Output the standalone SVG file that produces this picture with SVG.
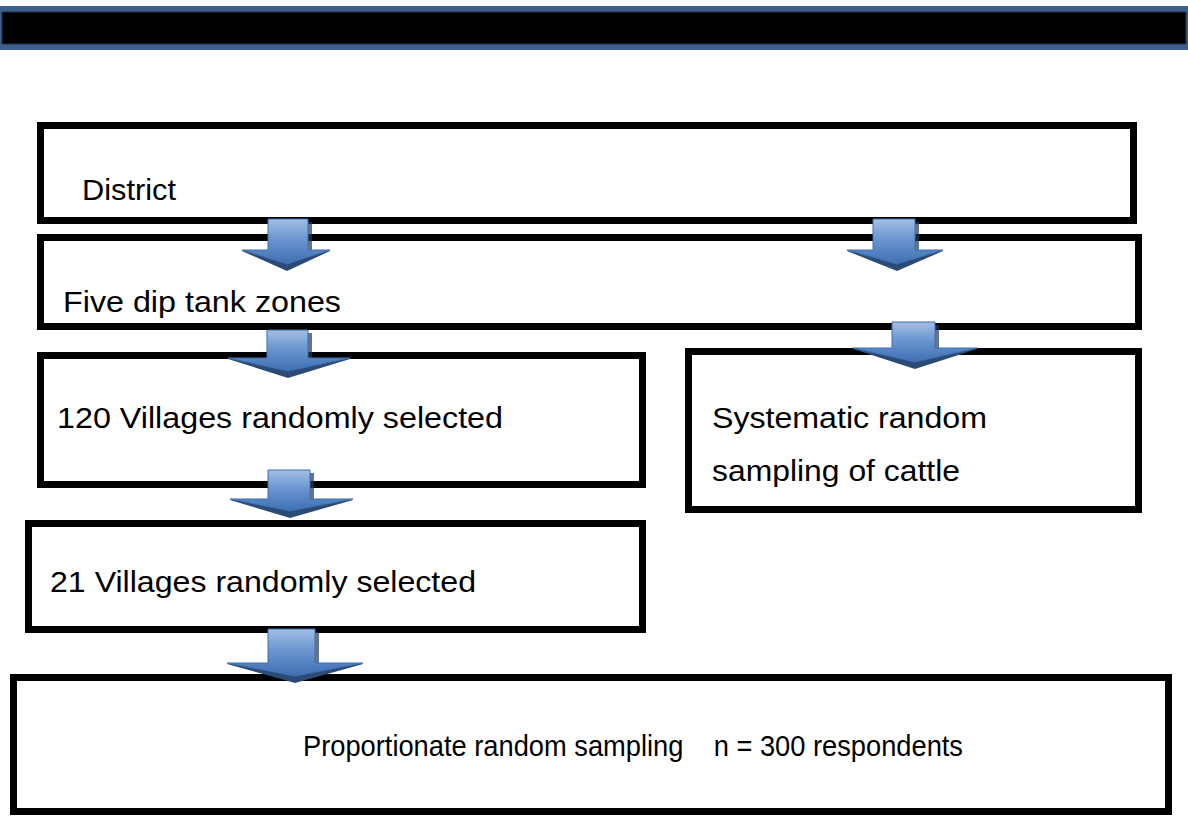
<svg xmlns="http://www.w3.org/2000/svg" width="1188" height="821" viewBox="0 0 1188 821">
<defs>
<style>
.box{fill:#fff;stroke:#000;stroke-width:7}
.t{font-family:"Liberation Sans",Arial,sans-serif;font-size:29px;fill:#000}
.shadow{fill:#2b4a75}
.sh2{fill:#1f3a60;opacity:0.7}
.arr{fill:url(#g);stroke:#3f6fae;stroke-width:1}
</style>
<linearGradient id="g" x1="0" y1="0" x2="0" y2="1">
<stop offset="0" stop-color="#a3c0e6"/>
<stop offset="0.45" stop-color="#6a95cf"/>
<stop offset="1" stop-color="#3f70b4"/>
</linearGradient>
</defs>
<rect x="0" y="0" width="1188" height="821" fill="#fff"/>
<g id="header">
<rect x="0" y="6" width="1188" height="44" fill="#3c5f8c"/>
<rect x="2" y="12" width="1184" height="32" fill="#000" stroke="#1e2f45" stroke-width="1"/>
</g>
<g id="district">
<rect class="box" x="40.5" y="125.5" width="1093" height="95"/>
<text class="t" x="82" y="200" textLength="94" lengthAdjust="spacingAndGlyphs">District</text>
</g>
<g id="zones">
<rect class="box" x="40.5" y="237.5" width="1098" height="89"/>
<text class="t" x="63" y="312" textLength="278" lengthAdjust="spacingAndGlyphs">Five dip tank zones</text>
</g>
<g id="villages120">
<rect class="box" x="40.5" y="355.5" width="602" height="129"/>
<text class="t" x="57" y="428" textLength="446" lengthAdjust="spacingAndGlyphs">120 Villages randomly selected</text>
</g>
<g id="systematic">
<rect class="box" x="688.5" y="351.5" width="450" height="158"/>
<text class="t" x="712" y="428" textLength="275" lengthAdjust="spacingAndGlyphs">Systematic random</text>
<text class="t" x="712" y="481" textLength="248" lengthAdjust="spacingAndGlyphs">sampling of cattle</text>
</g>
<g id="villages21">
<rect class="box" x="28.5" y="523.5" width="614" height="106"/>
<text class="t" x="50" y="592" textLength="426" lengthAdjust="spacingAndGlyphs">21 Villages randomly selected</text>
</g>
<g id="proportionate">
<rect class="box" x="13.5" y="677.5" width="1155" height="134"/>
<text class="t" x="303" y="756" xml:space="preserve" textLength="660" lengthAdjust="spacingAndGlyphs">Proportionate random sampling    n = 300 respondents</text>
</g>
<g id="connectors">
<rect class="sh2" x="308" y="222" width="4" height="28"/>
<polygon class="shadow" points="242,251 330,251 287,271"/>
<polygon class="arr" points="268,219 308,219 308,250 330,250 287,264 242,250 268,250"/>
<rect class="sh2" x="915" y="222" width="4" height="28"/>
<polygon class="shadow" points="847,251 943,251 897,271"/>
<polygon class="arr" points="873,219 915,219 915,250 943,250 897,264 847,250 873,250"/>
<rect class="sh2" x="308" y="333" width="4" height="25"/>
<polygon class="shadow" points="228,359 350,359 288,378"/>
<polygon class="arr" points="267,330 308,330 308,358 350,358 288,371 228,358 267,358"/>
<rect class="sh2" x="935" y="325" width="4" height="23"/>
<polygon class="shadow" points="853,349 977,349 915,369"/>
<polygon class="arr" points="892,322 935,322 935,348 977,348 915,362 853,348 892,348"/>
<rect class="sh2" x="310" y="473" width="4" height="26"/>
<polygon class="shadow" points="230,500 353,500 290,518"/>
<polygon class="arr" points="268,470 310,470 310,499 353,499 290,511 230,499 268,499"/>
<rect class="sh2" x="315" y="632" width="4" height="31"/>
<polygon class="shadow" points="227,664 363,664 295,683"/>
<polygon class="arr" points="268,629 315,629 315,663 363,663 295,676 227,663 268,663"/>
</g>
</svg>
